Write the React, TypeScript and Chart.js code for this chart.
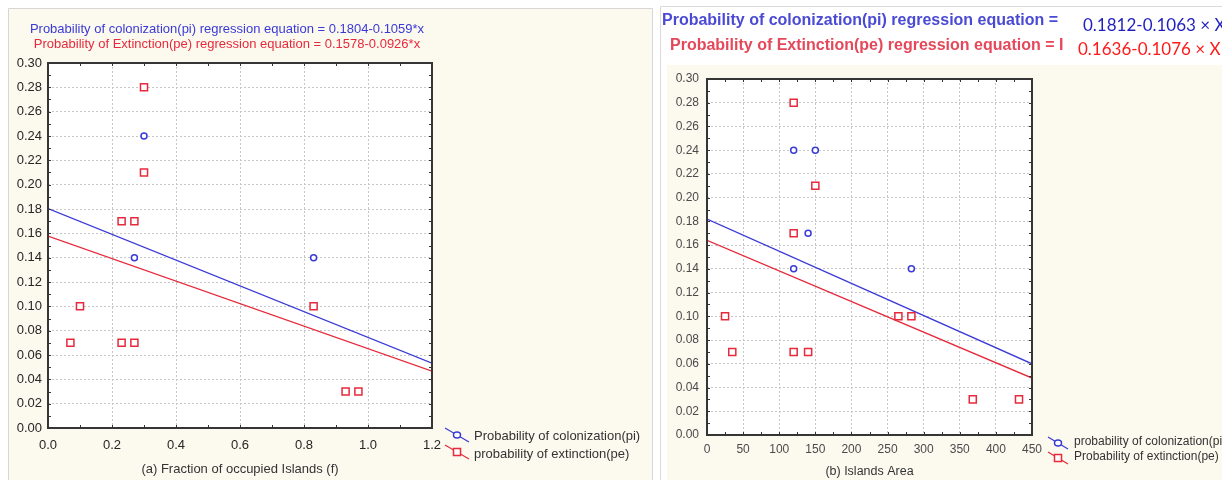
import React, { useEffect, useRef } from "react";
import { Chart, registerables } from "chart.js";
Chart.register(...registerables);

const FONT = "'Liberation Sans', Arial, sans-serif";
const BLUE = "#3a3ad6";
const RED = "#e62a3c";
const CREAM = "#fcf9ef";

// ---------- Panel (a): Fraction of occupied Islands ----------
const leftXTicks = [0, 0.2, 0.4, 0.6, 0.8, 1.0, 1.2];
const leftYTicks = [0, 0.02, 0.04, 0.06, 0.08, 0.1, 0.12, 0.14, 0.16, 0.18, 0.2, 0.22, 0.24, 0.26, 0.28, 0.3];
const leftColonX = [0.3, 0.27, 0.83];
const leftColonY = [0.24, 0.14, 0.14];
const leftExtX = [0.3, 0.3, 0.23, 0.27, 0.1, 0.07, 0.23, 0.27, 0.83, 0.93, 0.97];
const leftExtY = [0.28, 0.21, 0.17, 0.17, 0.1, 0.07, 0.07, 0.07, 0.1, 0.03, 0.03];
const leftFitX = [0, 1.2];
const leftColonFitY = [0.1804, 0.0533];
const leftExtFitY = [0.1578, 0.0467];
const leftTitleBlue = "Probability of colonization(pi) regression equation = 0.1804-0.1059*x";
const leftTitleRed = "Probability of Extinction(pe) regression equation = 0.1578-0.0926*x";
const leftXTitle = "(a) Fraction of occupied Islands (f)";
const leftLegend = ["Probability of colonization(pi)", "probability of extinction(pe)"];

// ---------- Panel (b): Islands Area ----------
const rightXTicks = [0, 50, 100, 150, 200, 250, 300, 350, 400, 450];
const rightYTicks = [0, 0.02, 0.04, 0.06, 0.08, 0.1, 0.12, 0.14, 0.16, 0.18, 0.2, 0.22, 0.24, 0.26, 0.28, 0.3];
const rightColonX = [120, 150, 140, 120, 283];
const rightColonY = [0.24, 0.24, 0.17, 0.14, 0.14];
const rightExtX = [120, 150, 120, 25, 35, 120, 140, 265, 283, 368, 432];
const rightExtY = [0.28, 0.21, 0.17, 0.1, 0.07, 0.07, 0.07, 0.1, 0.1, 0.03, 0.03];
const rightFitX = [0, 450];
const rightColonFitY = [0.182, 0.06];
const rightExtFitY = [0.164, 0.048];
const rightTitleBlue = "Probability of colonization(pi) regression equation = ";
const rightTitleRed = "Probability of Extinction(pe) regression equation = I";
const rightEqBlue = "0.1812-0.1063 × X";
const rightEqRed = "0.1636-0.1076 × X";
const rightXTitle = "(b) Islands Area";
const rightLegend = ["probability of colonization(pi)", "Probability of extinction(pe)"];

const zip = (xs: number[], ys: number[]) => xs.map((x, i) => ({ x, y: ys[i] }));

function drawMarker(ctx: CanvasRenderingContext2D, style: string, x: number, y: number, color: string) {
  ctx.save();
  ctx.strokeStyle = color;
  ctx.fillStyle = "#fff";
  ctx.lineWidth = 1.5;
  ctx.beginPath();
  if (style === "circle") ctx.ellipse(x, y, 3.5, 3, 0, 0, Math.PI * 2);
  else ctx.rect(x - 3.5, y - 3.5, 7, 7);
  ctx.fill();
  ctx.stroke();
  ctx.restore();
}

type Spec = {
  width: number;
  height: number;
  pad: { top: number; right: number };
  yWidth: number;
  xHeight: number;
  xMin: number;
  xMax: number;
  xTicks: number[];
  yTicks: number[];
  xDec: number;
  tickFont: number;
  tickColor: string;
  xTickPad: number;
  yTickPad: number;
  xTitle: string;
  xTitleFont: number;
  xTitlePad: number;
  colon: { x: number; y: number }[];
  ext: { x: number; y: number }[];
  colonFit: { x: number; y: number }[];
  extFit: { x: number; y: number }[];
  legend: string[];
  background: (ctx: CanvasRenderingContext2D, w: number, h: number) => void;
  overlay: (ctx: CanvasRenderingContext2D) => void;
  legendPos: { x1: number; y1: number; x2: number; y2: number; tx: number; ty: number }[];
  legendFont: number;
  minorX: number;
  minorY: number;
};

function makeConfig(s: Spec): any {
  const deco = {
    id: "deco",
    beforeDraw(chart: any) {
      const ctx = chart.ctx as CanvasRenderingContext2D;
      s.background(ctx, s.width, s.height);
      const a = chart.chartArea;
      ctx.save();
      ctx.fillStyle = "#fff";
      ctx.fillRect(a.left, a.top, a.right - a.left, a.bottom - a.top);
      ctx.restore();
    },
    afterDraw(chart: any) {
      const ctx = chart.ctx as CanvasRenderingContext2D;
      const a = chart.chartArea;
      const xs = chart.scales.x;
      const ys = chart.scales.y;
      ctx.save();
      ctx.strokeStyle = "#333";
      ctx.lineWidth = 1;
      ctx.beginPath();
      for (let v = s.xMin; v <= s.xMax + 1e-9; v += s.minorX) {
        const px = Math.round(xs.getPixelForValue(v)) + 0.5;
        ctx.moveTo(px, a.top);
        ctx.lineTo(px, a.top + 3);
        ctx.moveTo(px, a.bottom);
        ctx.lineTo(px, a.bottom - 3);
      }
      for (let v = 0; v <= 0.3 + 1e-9; v += s.minorY) {
        const py = Math.round(ys.getPixelForValue(v)) + 0.5;
        ctx.moveTo(a.left, py);
        ctx.lineTo(a.left + 3, py);
        ctx.moveTo(a.right, py);
        ctx.lineTo(a.right - 3, py);
      }
      ctx.stroke();
      ctx.strokeStyle = "#353535";
      ctx.lineWidth = 2;
      ctx.strokeRect(a.left, a.top, a.right - a.left, a.bottom - a.top);
      ctx.restore();

      const colors = [BLUE, RED];
      const styles = ["circle", "rect"];
      s.legendPos.forEach((p, i) => {
        ctx.save();
        ctx.strokeStyle = colors[i];
        ctx.lineWidth = 1.2;
        ctx.beginPath();
        ctx.moveTo(p.x1, p.y1);
        ctx.lineTo(p.x2, p.y2);
        ctx.stroke();
        ctx.restore();
        drawMarker(ctx, styles[i], (p.x1 + p.x2) / 2, (p.y1 + p.y2) / 2, colors[i]);
        ctx.save();
        ctx.fillStyle = "#333";
        ctx.font = `${s.legendFont}px ${FONT}`;
        ctx.textBaseline = "middle";
        ctx.textAlign = "left";
        ctx.fillText(s.legend[i], p.tx, p.ty);
        ctx.restore();
      });
      s.overlay(ctx);
    },
  };

  const tickFont = { family: FONT, size: s.tickFont };
  return {
    type: "scatter",
    data: {
      datasets: [
        {
          label: s.legend[0],
          data: s.colon,
          pointStyle: "circle",
          pointRadius: 3,
          pointBorderWidth: 1.5,
          borderColor: BLUE,
          backgroundColor: "#fff",
          order: 1,
        },
        {
          label: s.legend[1],
          data: s.ext,
          pointStyle: "rect",
          pointRadius: 5,
          pointBorderWidth: 1.5,
          borderColor: RED,
          backgroundColor: "#fff",
          order: 1,
        },
        {
          type: "line",
          label: "fit colonization",
          data: s.colonFit,
          borderColor: BLUE,
          borderWidth: 1.3,
          pointRadius: 0,
          fill: false,
          order: 2,
        },
        {
          type: "line",
          label: "fit extinction",
          data: s.extFit,
          borderColor: RED,
          borderWidth: 1.3,
          pointRadius: 0,
          fill: false,
          order: 2,
        },
      ],
    },
    options: {
      animation: false,
      responsive: false,
      devicePixelRatio: 1,
      layout: { padding: { top: s.pad.top, right: s.pad.right, left: 0, bottom: 0 } },
      plugins: { legend: { display: false }, tooltip: { enabled: false }, title: { display: false } },
      scales: {
        x: {
          type: "linear",
          min: s.xMin,
          max: s.xMax,
          afterBuildTicks: (sc: any) => {
            sc.ticks = s.xTicks.map((v) => ({ value: v }));
          },
          afterFit: (sc: any) => {
            sc.height = s.xHeight;
          },
          ticks: {
            callback: (v: any) => Number(v).toFixed(s.xDec),
            padding: s.xTickPad,
            color: s.tickColor,
            font: tickFont,
            maxRotation: 0,
            autoSkip: false,
          },
          grid: { color: "#c6c6c6", lineWidth: 1, drawTicks: false },
          border: { display: false, dash: [2, 2] },
          title: {
            display: true,
            text: s.xTitle,
            color: "#333",
            font: { family: FONT, size: s.xTitleFont },
            padding: { top: 0, bottom: s.xTitlePad },
          },
        },
        y: {
          type: "linear",
          min: 0,
          max: 0.3,
          afterBuildTicks: (sc: any) => {
            sc.ticks = s.yTicks.map((v) => ({ value: v }));
          },
          afterFit: (sc: any) => {
            sc.width = s.yWidth;
          },
          ticks: {
            callback: (v: any) => Number(v).toFixed(2),
            padding: s.yTickPad,
            color: s.tickColor,
            font: tickFont,
            autoSkip: false,
          },
          grid: { color: "#c6c6c6", lineWidth: 1, drawTicks: false },
          border: { display: false, dash: [2, 2] },
        },
      },
    },
    plugins: [deco],
  };
}

const leftSpec: Spec = {
  width: 655,
  height: 480,
  pad: { top: 63, right: 223 },
  yWidth: 48,
  xHeight: 52,
  xMin: 0,
  xMax: 1.2,
  xTicks: leftXTicks,
  yTicks: leftYTicks,
  xDec: 1,
  tickFont: 13,
  tickColor: "#262626",
  xTickPad: 10,
  yTickPad: 6,
  xTitle: leftXTitle,
  xTitleFont: 13,
  xTitlePad: 3,
  colon: zip(leftColonX, leftColonY),
  ext: zip(leftExtX, leftExtY),
  colonFit: zip(leftFitX, leftColonFitY),
  extFit: zip(leftFitX, leftExtFitY),
  legend: leftLegend,
  legendFont: 13,
  legendPos: [
    { x1: 445, y1: 428, x2: 469, y2: 442, tx: 474, ty: 436 },
    { x1: 445, y1: 445, x2: 469, y2: 459, tx: 474, ty: 454 },
  ],
  minorX: 0.1,
  minorY: 0.01,
  background: (ctx, w, h) => {
    ctx.save();
    ctx.fillStyle = "#fff";
    ctx.fillRect(0, 0, w, h);
    ctx.fillStyle = CREAM;
    ctx.fillRect(9, 9, 643, h - 9);
    ctx.strokeStyle = "#d6d6d6";
    ctx.lineWidth = 1;
    ctx.beginPath();
    ctx.moveTo(8.5, h);
    ctx.lineTo(8.5, 8.5);
    ctx.lineTo(652.5, 8.5);
    ctx.lineTo(652.5, h);
    ctx.stroke();
    ctx.restore();
  },
  overlay: (ctx) => {
    ctx.save();
    ctx.font = `13px ${FONT}`;
    ctx.textAlign = "center";
    ctx.textBaseline = "middle";
    ctx.fillStyle = BLUE;
    ctx.fillText(leftTitleBlue, 227, 29);
    ctx.fillStyle = RED;
    ctx.fillText(leftTitleRed, 227, 44);
    ctx.restore();
  },
};

const rightSpec: Spec = {
  width: 567,
  height: 480,
  pad: { top: 79, right: 190 },
  yWidth: 52,
  xHeight: 45,
  xMin: 0,
  xMax: 450,
  xTicks: rightXTicks,
  yTicks: rightYTicks,
  xDec: 0,
  tickFont: 12,
  tickColor: "#4a4a4a",
  xTickPad: 7,
  yTickPad: 8,
  xTitle: rightXTitle,
  xTitleFont: 12.5,
  xTitlePad: 1,
  colon: zip(rightColonX, rightColonY),
  ext: zip(rightExtX, rightExtY),
  colonFit: zip(rightFitX, rightColonFitY),
  extFit: zip(rightFitX, rightExtFitY),
  legend: rightLegend,
  legendFont: 12,
  legendPos: [
    { x1: 393, y1: 437, x2: 413, y2: 449, tx: 419, ty: 442 },
    { x1: 393, y1: 452, x2: 413, y2: 464, tx: 419, ty: 457 },
  ],
  minorX: 25,
  minorY: 0.01,
  background: (ctx, w, h) => {
    ctx.save();
    ctx.fillStyle = "#fff";
    ctx.fillRect(0, 0, w, h);
    ctx.fillStyle = CREAM;
    ctx.fillRect(12, 65, w - 12, h - 65);
    ctx.strokeStyle = "#dadada";
    ctx.lineWidth = 1;
    ctx.beginPath();
    ctx.moveTo(5.5, h);
    ctx.lineTo(5.5, 6.5);
    ctx.lineTo(w, 6.5);
    ctx.stroke();
    ctx.restore();
  },
  overlay: (ctx) => {
    ctx.save();
    ctx.textAlign = "left";
    ctx.textBaseline = "middle";
    ctx.font = `bold 16px ${FONT}`;
    ctx.fillStyle = "#4a4ad4";
    ctx.fillText(rightTitleBlue, 7, 21);
    ctx.fillStyle = "#e4485a";
    ctx.fillText(rightTitleRed, 15, 46);
    ctx.font = `17px Lato, 'Open Sans', sans-serif`;
    ctx.fillStyle = "#1f1fbf";
    ctx.fillText(rightEqBlue, 428, 26);
    ctx.fillStyle = "#ff1a1a";
    ctx.fillText(rightEqRed, 423, 50);
    ctx.restore();
  },
};

function Panel({ spec, left }: { spec: Spec; left: number }) {
  const ref = useRef<HTMLCanvasElement | null>(null);
  useEffect(() => {
    if (!ref.current) return;
    const chart = new Chart(ref.current, makeConfig(spec));
    return () => chart.destroy();
  }, [spec]);
  return (
    <canvas
      ref={ref}
      width={spec.width}
      height={spec.height}
      style={{ position: "absolute", left, top: 0, width: spec.width, height: spec.height }}
    />
  );
}

export default function App() {
  return (
    <div style={{ position: "fixed", left: 0, top: 0, width: 1222, height: 480, background: "#fff", overflow: "hidden" }}>
      <Panel spec={leftSpec} left={0} />
      <Panel spec={rightSpec} left={655} />
    </div>
  );
}
